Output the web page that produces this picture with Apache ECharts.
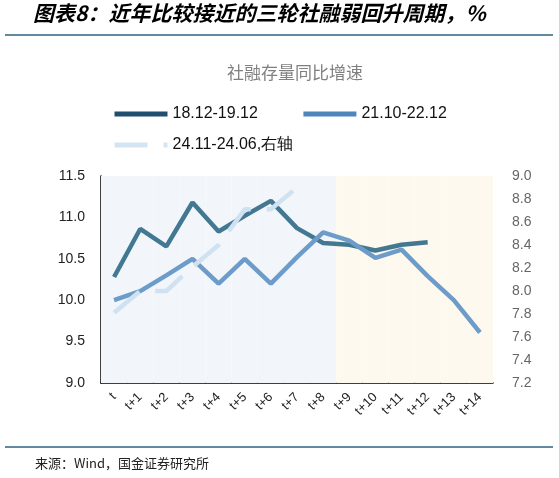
<!DOCTYPE html>
<html>
<head>
    <meta charset="utf-8">
    <title>ECharts</title>
    <script src="https://cdn.jsdelivr.net/npm/echarts@6/dist/echarts.min.js"></script>
    <style>
        *{margin: 0;padding: 0;}
        body{background: #fff;}
    </style>
</head>
<body>
    <div id="main" style="width: 559px;height:478px;"></div>
    <script type="text/javascript">
        // 横轴: t .. t+14
        var categories = ['t', 't+1', 't+2', 't+3', 't+4', 't+5', 't+6', 't+7',
            't+8', 't+9', 't+10', 't+11', 't+12', 't+13', 't+14'];

        // 社融存量同比增速, %
        var cycle1812 = [10.28, 10.86, 10.65, 11.18, 10.83, 11.02, 11.2, 10.87,
            10.69, 10.67, 10.6, 10.67, 10.7, '-', '-'];
        var cycle2110 = [10.0, 10.11, 10.3, 10.5, 10.2, 10.5, 10.2, 10.52,
            10.82, 10.72, 10.51, 10.61, 10.29, 10.0, 9.61];
        // 右轴
        var cycle2411 = [7.81, 8.0, 8.0, 8.21, 8.4, 8.71, 8.71, 8.9,
            '-', '-', '-', '-', '-', '-', '-'];

        // 背景分段: 前9期 / 后6期
        var shadeBefore = [11.5, 11.5, 11.5, 11.5, 11.5, 11.5, 11.5, 11.5, 11.5,
            '-', '-', '-', '-', '-', '-'];
        var shadeAfter = ['-', '-', '-', '-', '-', '-', '-', '-', '-',
            11.5, 11.5, 11.5, 11.5, 11.5, 11.5];

        var myChart = echarts.init(document.getElementById('main'));
        var font = 'Liberation Sans, Arial, sans-serif';
        var cjk = 'Noto Sans CJK SC';
        var legendText = {fontFamily: font, fontSize: 16, color: '#111'};

        option = {
            backgroundColor: '#fff',
            animation: false,
            title: {
                text: '社融存量同比增速',
                left: 222,
                top: 59,
                textStyle: {
                    fontFamily: cjk,
                    fontSize: 17,
                    fontWeight: 'normal',
                    color: '#808080'
                }
            },
            legend: [
                {
                    data: [
                        {name: '18.12-19.12', lineStyle: {color: '#1f4e6e', width: 5}},
                        {name: '21.10-22.12', lineStyle: {color: '#4f85bd', width: 5}}
                    ],
                    left: 107,
                    top: 101,
                    itemWidth: 53,
                    itemHeight: 14,
                    itemGap: 43,
                    itemStyle: {opacity: 0},
                    textStyle: legendText
                },
                {
                    data: [
                        {name: '24.11-24.06,右轴', lineStyle: {color: '#d3e4f3', width: 5}}
                    ],
                    left: 107,
                    top: 132,
                    itemWidth: 53,
                    itemHeight: 14,
                    itemStyle: {opacity: 0},
                    textStyle: legendText
                }
            ],
            grid: {left: 101, right: 66, top: 176, bottom: 95},
            xAxis: {
                type: 'category',
                data: categories,
                boundaryGap: true,
                axisLine: {lineStyle: {color: '#000', width: 1.5}},
                axisTick: {inside: true, length: 4, lineStyle: {color: '#000'}},
                axisLabel: {
                    rotate: 45,
                    margin: 12,
                    fontFamily: font,
                    fontSize: 13,
                    color: '#222'
                }
            },
            yAxis: [
                {
                    type: 'value',
                    min: 9,
                    max: 11.5,
                    interval: 0.5,
                    axisLine: {show: true, lineStyle: {color: '#000', width: 1.5}},
                    axisTick: {show: false},
                    splitLine: {show: false},
                    axisLabel: {
                        margin: 16,
                        fontFamily: font,
                        fontSize: 14,
                        color: '#222',
                        formatter: function (v) { return v.toFixed(1); }
                    }
                },
                {
                    type: 'value',
                    min: 7.2,
                    max: 9.0,
                    interval: 0.2,
                    axisLine: {show: false},
                    axisTick: {show: false},
                    splitLine: {show: false},
                    axisLabel: {
                        margin: 19,
                        fontFamily: font,
                        fontSize: 14,
                        color: '#666',
                        formatter: function (v) { return v.toFixed(1); }
                    }
                }
            ],
            series: [
                {
                    name: 'shadeBefore',
                    type: 'bar',
                    data: shadeBefore,
                    barWidth: '100%',
                    barGap: '-100%',
                    silent: true,
                    itemStyle: {color: '#f2f6fb'}
                },
                {
                    name: 'shadeAfter',
                    type: 'bar',
                    data: shadeAfter,
                    barWidth: '100%',
                    barGap: '-100%',
                    silent: true,
                    itemStyle: {color: '#fdf9ee'}
                },
                {
                    name: '18.12-19.12',
                    type: 'line',
                    data: cycle1812,
                    symbol: 'none',
                    color: '#437892',
                    lineStyle: {width: 4.5, color: '#437892'}
                },
                {
                    name: '21.10-22.12',
                    type: 'line',
                    data: cycle2110,
                    symbol: 'none',
                    color: '#6d9cc9',
                    lineStyle: {width: 4.5, color: '#6d9cc9'}
                },
                {
                    name: '24.11-24.06,右轴',
                    type: 'line',
                    yAxisIndex: 1,
                    data: cycle2411,
                    symbol: 'none',
                    color: '#d0e2f2',
                    lineStyle: {width: 4.5, color: '#d0e2f2', type: [33, 16]}
                }
            ],
            graphic: [
                {
                    type: 'text',
                    left: 33,
                    top: 3,
                    style: {
                        text: '图表8：近年比较接近的三轮社融弱回升周期，%',
                        font: 'italic bold 21px "Noto Sans CJK SC"',
                        fill: '#000'
                    }
                },
                {
                    type: 'line',
                    shape: {x1: 5, y1: 35, x2: 553, y2: 35},
                    style: {stroke: '#2f6283', lineWidth: 1.5}
                },
                {
                    type: 'line',
                    shape: {x1: 5, y1: 447, x2: 553, y2: 447},
                    style: {stroke: '#2f6283', lineWidth: 1.5}
                },
                {
                    type: 'text',
                    left: 35,
                    top: 457,
                    style: {
                        text: '来源：Wind，国金证券研究所',
                        font: '13px "Noto Sans CJK SC"',
                        fill: '#222'
                    }
                }
            ]
        };

        myChart.setOption(option);
    </script>
</body>
</html>
